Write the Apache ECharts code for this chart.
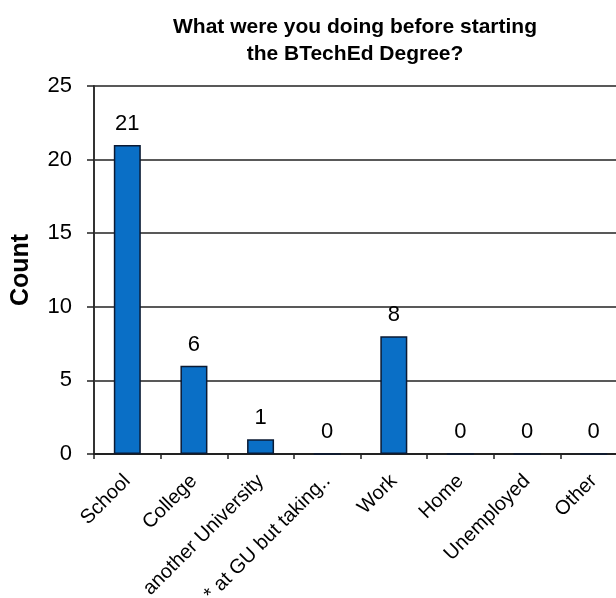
<!DOCTYPE html>
<html>
<head>
<meta charset="utf-8">
<script src="https://cdn.jsdelivr.net/npm/echarts@6/dist/echarts.min.js"></script>
<style>
  html, body { margin: 0; padding: 0; background: #fff; }
  #chart { width: 616px; height: 598px; }
</style>
</head>
<body>
<div id="chart"></div>
<script>
var categories = ["School", "College", "another University", "* at GU but taking..", "Work", "Home", "Unemployed", "Other"];
var counts = [21, 6, 1, 0, 8, 0, 0, 0];
var yTicks = [0, 5, 10, 15, 20, 25];

var myChart = echarts.init(document.getElementById('chart'));
var option = {
    animation: false,
    title: {
        text: 'What were you doing before starting\nthe BTechEd Degree?',
        left: 350,
        top: 9,
        textAlign: 'center',
        textStyle: {
            fontFamily: 'Liberation Sans, Arial',
            fontSize: 21,
            fontWeight: 'bold',
            color: '#000',
            lineHeight: 27
        }
    },
    // chart is cropped on the right, so the plot runs past the canvas
    grid: { left: 94, right: -11, top: 86, bottom: 144, containLabel: false, outerBoundsMode: 'none' },
    xAxis: {
        type: 'category',
        data: categories,
        axisLine: { lineStyle: { color: '#222', width: 2 } },
        axisTick: { show: true, length: 5, lineStyle: { color: '#222', width: 1.5 } },
        axisLabel: {
            rotate: 45,
            interval: 0,
            margin: 24,
            fontFamily: 'Liberation Sans, Arial',
            fontSize: 20,
            color: '#000'
        }
    },
    yAxis: {
        type: 'value',
        min: yTicks[0],
        max: yTicks[yTicks.length - 1],
        interval: 5,
        name: 'Count',
        nameLocation: 'middle',
        nameGap: 60,
        nameTextStyle: { fontFamily: 'Liberation Sans, Arial', fontSize: 25, fontWeight: 'bold', color: '#000' },
        axisLine: { show: true, lineStyle: { color: '#333', width: 2 } },
        axisTick: { show: true, length: 7, lineStyle: { color: '#222', width: 1.5 } },
        axisLabel: { margin: 22, fontFamily: 'Liberation Sans, Arial', fontSize: 22, color: '#000' },
        splitLine: { lineStyle: { color: '#222', width: 1.5 } }
    },
    series: [{
        type: 'bar',
        data: counts,
        barWidth: 27,
        itemStyle: { color: '#0a6fc6', borderColor: '#0b1a33', borderWidth: 1.5 },
        label: {
            show: true,
            position: 'top',
            distance: 10,
            fontFamily: 'Liberation Sans, Arial',
            fontSize: 22,
            color: '#000'
        }
    }]
};
myChart.setOption(option);
</script>
</body>
</html>
